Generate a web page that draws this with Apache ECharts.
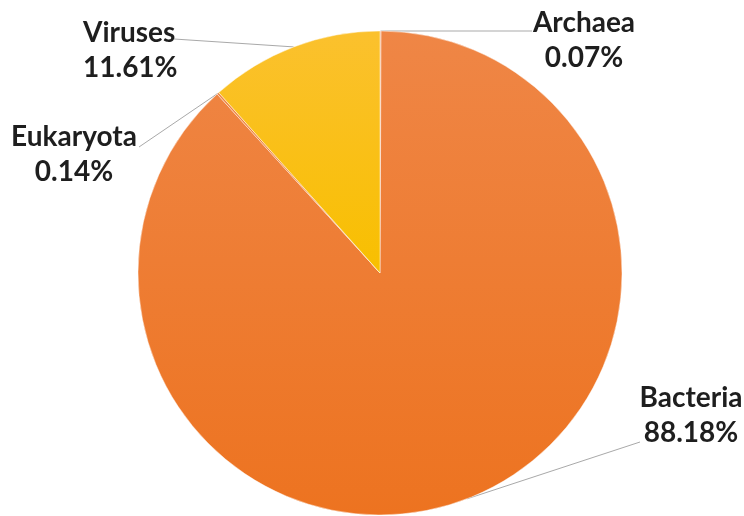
<!DOCTYPE html>
<html>
<head>
<meta charset="utf-8">
<title>Domain composition</title>
<script src="https://cdn.jsdelivr.net/npm/echarts@6/dist/echarts.min.js"></script>
<style>
  html, body { margin: 0; padding: 0; background: #ffffff; }
  #chart { width: 744px; height: 516px; }
</style>
</head>
<body>
<div id="chart"></div>
<script>
// Share of reads per domain (percent), clockwise from 12 o'clock
const domains = ['Archaea', 'Bacteria', 'Eukaryota', 'Viruses'];
const shares = [0.07, 88.18, 0.14, 11.61];

// Slice fills: top and bottom stops of a soft vertical gradient
const sliceTop = ['#EF8646', '#EF8646', '#EF8646', '#FBC12E'];
const sliceBottom = ['#ED7320', '#ED7320', '#ED7320', '#F8BF00'];

// Where each label block sits and where its leader line meets it
const labelSpots = [
  { x: 584, y: 40, align: 'center', end: [532, 31] },
  { x: 691, y: 415, align: 'center', end: [640, 442] },
  { x: 74, y: 154, align: 'center', end: [139, 147] },
  { x: 83, y: 50, align: 'left', end: [174, 39] }
];

const chart = echarts.init(document.getElementById('chart'));

chart.setOption({
  animation: false,
  backgroundColor: '#ffffff',
  series: [{
    type: 'pie',
    center: [380, 273],
    radius: [0, 242],
    startAngle: 90,
    clockwise: true,
    avoidLabelOverlap: false,
    data: domains.map((name, i) => ({
      name: name,
      value: shares[i],
      itemStyle: {
        color: new echarts.graphic.LinearGradient(0, 0, 0, 1, [
          { offset: 0, color: sliceTop[i] },
          { offset: 1, color: sliceBottom[i] }
        ])
      }
    })),
    itemStyle: {
      borderColor: 'rgba(255,255,255,0.45)',
      borderWidth: 1
    },
    label: {
      show: true,
      position: 'outside',
      formatter: '{b}\n{d}%',
      fontFamily: 'Lato',
      fontWeight: 'bold',
      fontSize: 28,
      lineHeight: 35,
      color: '#1e1e1e'
    },
    labelLine: {
      show: true,
      length: 20,
      length2: 0,
      smooth: false,
      lineStyle: { color: '#A9A9A9', width: 1 }
    },
    labelLayout: function (params) {
      const spot = labelSpots[params.dataIndex];
      const out = {
        x: spot.x,
        y: spot.y,
        align: spot.align,
        verticalAlign: 'middle'
      };
      const pts = params.labelLinePoints;
      if (pts && pts.length) {
        const start = pts[0];
        out.labelLinePoints = [start, spot.end, spot.end];
      }
      return out;
    }
  }]
});
</script>
</body>
</html>
